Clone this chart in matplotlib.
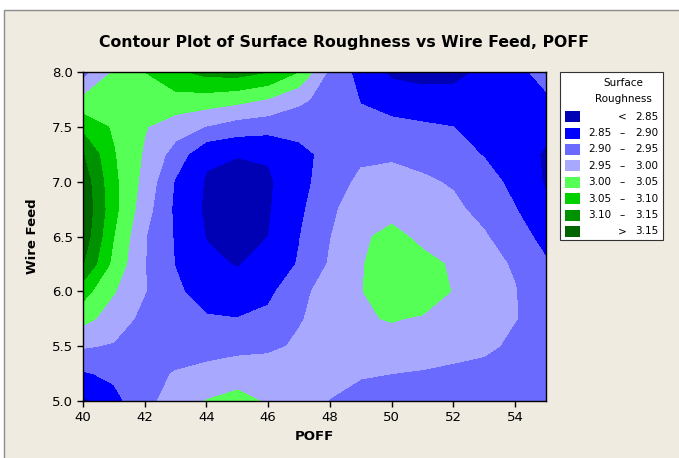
import numpy as np
import matplotlib.pyplot as plt
from matplotlib.patches import Rectangle

# grid
poff = [40, 41, 42, 43, 44, 45, 46, 47, 48, 49, 50, 51, 52, 53, 54, 55]
wire_feed = [5.0, 5.25, 5.5, 5.75, 6.0, 6.25, 6.5, 6.75, 7.0, 7.25, 7.5, 7.75, 8.0]

# surface roughness, one row per wire feed value (bottom to top)
roughness = [
    [2.84, 2.885, 2.933, 2.975, 3.001, 3.01, 2.996, 2.97, 2.948, 2.93, 2.925, 2.92, 2.915, 2.915, 2.915, 2.92],
    [2.895, 2.91, 2.925, 2.955, 2.975, 2.985, 2.99, 2.99, 2.97, 2.955, 2.95, 2.945, 2.935, 2.925, 2.915, 2.91],
    [2.955, 2.945, 2.92, 2.91, 2.915, 2.93, 2.935, 2.96, 2.975, 2.985, 2.98, 2.98, 2.975, 2.965, 2.935, 2.915],
    [3.015, 2.978, 2.935, 2.915, 2.905, 2.901, 2.91, 2.945, 2.975, 2.995, 3.003, 2.995, 2.985, 2.97, 2.952, 2.925],
    [3.07, 3.003, 2.952, 2.91, 2.875, 2.87, 2.89, 2.93, 2.98, 2.998, 3.025, 3.03, 2.997, 2.97, 2.952, 2.915],
    [3.152, 3.034, 2.952, 2.898, 2.86, 2.847, 2.867, 2.904, 2.955, 2.997, 3.02, 3.012, 2.995, 2.965, 2.945, 2.905],
    [3.18, 3.05, 2.953, 2.895, 2.848, 2.835, 2.85, 2.898, 2.948, 2.993, 3.012, 2.99, 2.975, 2.955, 2.92, 2.885],
    [3.19, 3.064, 2.971, 2.89, 2.842, 2.83, 2.845, 2.89, 2.937, 2.985, 2.985, 2.975, 2.96, 2.935, 2.902, 2.86],
    [3.18, 3.061, 2.984, 2.895, 2.845, 2.835, 2.843, 2.883, 2.925, 2.96, 2.966, 2.957, 2.945, 2.92, 2.886, 2.845],
    [3.152, 3.053, 2.994, 2.929, 2.858, 2.852, 2.855, 2.885, 2.915, 2.94, 2.943, 2.934, 2.92, 2.897, 2.87, 2.845],
    [3.085, 3.043, 3.003, 2.973, 2.948, 2.926, 2.918, 2.918, 2.915, 2.91, 2.912, 2.906, 2.90, 2.88, 2.87, 2.86],
    [3.01, 3.035, 3.04, 3.033, 3.028, 3.016, 2.997, 2.96, 2.931, 2.898, 2.879, 2.872, 2.868, 2.87, 2.88, 2.895],
    [2.93, 3.005, 3.05, 3.09, 3.115, 3.12, 3.10, 3.048, 2.939, 2.882, 2.84, 2.83, 2.835, 2.86, 2.89, 2.912],
]

levels = [2.0, 2.85, 2.90, 2.95, 3.00, 3.05, 3.10, 3.15, 4.0]
colors = ['#0000B4', '#0000FF', '#6A6AFF', '#A8A8FF', '#55FF55', '#00D200', '#009100', '#006400']

legend_low = ['', '2.85', '2.90', '2.95', '3.00', '3.05', '3.10', '']
legend_sym = ['<', '\u2013', '\u2013', '\u2013', '\u2013', '\u2013', '\u2013', '>']
legend_high = ['2.85', '2.90', '2.95', '3.00', '3.05', '3.10', '3.15', '3.15']

W, H = 679, 458
plt.rcParams['font.family'] = 'DejaVu Sans'

fig = plt.figure(figsize=(W / 100, H / 100), dpi=100, facecolor='white')
fig.patches.append(Rectangle((4 / W, -0.01), 1.0, (H - 10) / H + 0.01, transform=fig.transFigure,
                             facecolor='#EFEBE1', edgecolor='#8C8C8C', lw=1, zorder=-10))

ax = fig.add_axes([83 / W, 1 - 401 / H, 463 / W, 329 / H])
X, Y = np.meshgrid(poff, wire_feed)
Z = np.array(roughness)
ax.contourf(X, Y, Z, levels=levels, colors=colors)

ax.set_xlim(40, 55)
ax.set_ylim(5, 8)
ax.set_xticks([40, 42, 44, 46, 48, 50, 52, 54])
ax.set_yticks([5.0, 5.5, 6.0, 6.5, 7.0, 7.5, 8.0])
ax.set_yticklabels(['5.0', '5.5', '6.0', '6.5', '7.0', '7.5', '8.0'])
ax.tick_params(direction='out', length=4, width=1, labelsize=9.5, pad=3)
for s in ax.spines.values():
    s.set_linewidth(1)

fig.text(344 / W, 1 - 43 / H, 'Contour Plot of Surface Roughness vs Wire Feed, POFF',
         ha='center', va='center', fontsize=11.3, fontweight='bold')
fig.text(314 / W, 1 - 437 / H, 'POFF', ha='center', va='center', fontsize=9.5, fontweight='bold')
fig.text(33 / W, 1 - 236 / H, 'Wire Feed', ha='center', va='center', rotation=90,
         fontsize=9.5, fontweight='bold')

# legend box drawn by hand to match the Minitab layout
fig.patches.append(Rectangle((560 / W, 1 - 240 / H), 103 / W, 168 / H, transform=fig.transFigure,
                             facecolor='white', edgecolor='#333333', lw=0.8, zorder=1))
fig.text(623 / W, 1 - 83 / H, 'Surface', ha='center', va='center', fontsize=7.5)
fig.text(623 / W, 1 - 99.5 / H, 'Roughness', ha='center', va='center', fontsize=7.5)
for i in range(len(colors)):
    yc = 116.7 + i * 16.4
    fig.patches.append(Rectangle((565 / W, 1 - (yc + 5.5) / H), 15 / W, 11 / H, transform=fig.transFigure,
                                 facecolor=colors[i], edgecolor='none', zorder=2))
    fig.text(588 / W, 1 - yc / H, legend_low[i], ha='left', va='center', fontsize=7.5)
    fig.text(622 / W, 1 - yc / H, legend_sym[i], ha='center', va='center', fontsize=7.5)
    fig.text(658 / W, 1 - yc / H, legend_high[i], ha='right', va='center', fontsize=7.5)

fig.savefig('out.png', dpi=100, facecolor=fig.get_facecolor())
